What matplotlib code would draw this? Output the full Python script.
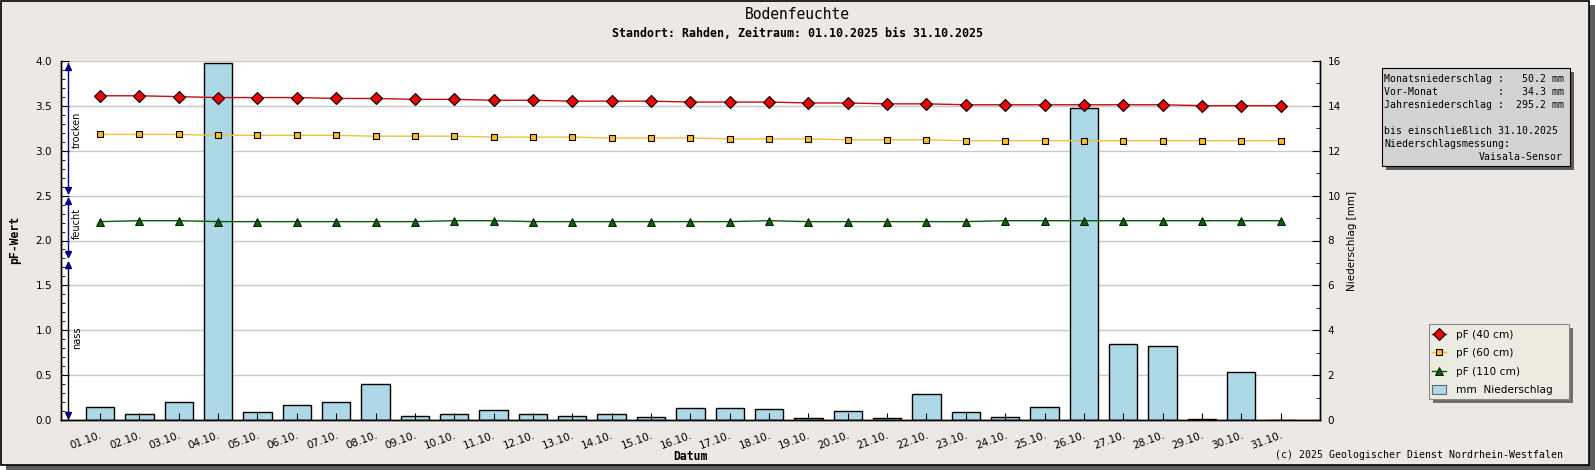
import matplotlib
matplotlib.use("Agg")
import matplotlib.pyplot as plt
from matplotlib.patches import Rectangle
from matplotlib.lines import Line2D
from matplotlib.ticker import MultipleLocator

W, H = 1595, 470
MONO = "DejaVu Sans Mono"

# data
tage = ["01.10.", "02.10.", "03.10.", "04.10.", "05.10.", "06.10.", "07.10.", "08.10.",
        "09.10.", "10.10.", "11.10.", "12.10.", "13.10.", "14.10.", "15.10.", "16.10.",
        "17.10.", "18.10.", "19.10.", "20.10.", "21.10.", "22.10.", "23.10.", "24.10.",
        "25.10.", "26.10.", "27.10.", "28.10.", "29.10.", "30.10.", "31.10."]
pf_40 = [3.61, 3.61, 3.60, 3.59, 3.59, 3.59, 3.58, 3.58, 3.57, 3.57, 3.56, 3.56, 3.55, 3.55,
         3.55, 3.54, 3.54, 3.54, 3.53, 3.53, 3.52, 3.52, 3.51, 3.51, 3.51, 3.51, 3.51, 3.51,
         3.50, 3.50, 3.50]
pf_60 = [3.18, 3.18, 3.18, 3.17, 3.17, 3.17, 3.17, 3.16, 3.16, 3.16, 3.15, 3.15, 3.15, 3.14,
         3.14, 3.14, 3.13, 3.13, 3.13, 3.12, 3.12, 3.12, 3.11, 3.11, 3.11, 3.11, 3.11, 3.11,
         3.11, 3.11, 3.11]
pf_110 = [2.21, 2.22, 2.22, 2.21, 2.21, 2.21, 2.21, 2.21, 2.21, 2.22, 2.22, 2.21, 2.21, 2.21,
          2.21, 2.21, 2.21, 2.22, 2.21, 2.21, 2.21, 2.21, 2.21, 2.22, 2.22, 2.22, 2.22, 2.22,
          2.22, 2.22, 2.22]
niederschlag = [0.6, 0.3, 0.8, 15.9, 0.35, 0.7, 0.8, 1.6, 0.2, 0.3, 0.45, 0.3, 0.2, 0.3, 0.15,
                0.55, 0.55, 0.5, 0.1, 0.4, 0.1, 1.15, 0.35, 0.15, 0.6, 13.9, 3.4, 3.3, 0.05,
                2.15, 0.0]
monat_mm = 50.2
vormonat_mm = 34.3
jahr_mm = 295.2
bis_datum = "31.10.2025"
sensor = "Vaisala-Sensor"

# soil moisture classes (pF ranges) drawn at the left edge
klassen = [("trocken", 2.53, 3.97, 3.23, "navy"),
           ("feucht", 1.82, 2.47, 2.19, "navy"),
           ("nass", 0.02, 1.76, 0.92, "black")]

tage_x = list(range(1, len(tage) + 1))


def fx(x):
    return x / W


def fy(y):
    return 1 - y / H


def box(x0, y0, x1, y1, **kw):
    fig.add_artist(Rectangle((fx(x0), fy(y1)), (x1 - x0) / W, (y1 - y0) / H,
                             transform=fig.transFigure, **kw))


fig = plt.figure(figsize=(W / 100, H / 100), dpi=100)
fig.patch.set_facecolor("white")

# frame with drop shadow
box(6, 5, 1595, 470, facecolor="#5c5c5c", edgecolor="none", zorder=0)
box(0.5, 0.5, 1589, 465, facecolor="#ebe8e6", edgecolor="black", lw=1.2, zorder=0.1)

ax = fig.add_axes([fx(60.7), fy(420.3), (1320 - 60.7) / W, (420.3 - 60.7) / H])
ax2 = ax.twinx()
ax.set_zorder(3)
ax2.set_zorder(2)
ax.patch.set_visible(False)
ax2.patch.set_visible(True)
ax2.patch.set_facecolor("white")

# bars (mm) on the right axis
ax2.bar(tage_x, niederschlag, width=0.72, color="#add8e6", edgecolor="black", linewidth=1)
ax2.set_ylim(0, 16)
ax2.yaxis.set_major_locator(MultipleLocator(2))
ax2.yaxis.set_minor_locator(MultipleLocator(1))
ax2.set_axisbelow(True)
ax2.grid(axis="y", color="#c8c8c8", lw=1)
ax2.tick_params(axis="y", which="major", direction="in", length=5.5, pad=5.5, labelsize=7.5)
ax2.tick_params(axis="y", which="minor", direction="in", length=3)

# pF lines
ax.plot(tage_x, pf_40, color="#c41010", lw=1, marker="D", ms=6, mfc="#ee0000", mec="black", mew=0.8)
ax.plot(tage_x, pf_60, color="#f0c040", lw=1, marker="s", ms=4.2, mfc="#fbbd22", mec="black", mew=0.8)
ax.plot(tage_x, pf_110, color="#0a5a0a", lw=1, marker="^", ms=5.5, mfc="#006400", mec="black", mew=0.6)

ax.set_xlim(0, 32)
ax.set_ylim(0, 4)
ax.yaxis.set_major_locator(MultipleLocator(0.5))
ax.yaxis.set_minor_locator(MultipleLocator(0.1))
ax.yaxis.set_major_formatter(plt.FormatStrFormatter("%.1f"))
ax.tick_params(axis="y", which="major", direction="in", length=6, pad=6.3, labelsize=7.5)
ax.tick_params(axis="y", which="minor", direction="in", length=3)
ax.set_xticks(tage_x)
ax.set_xticklabels(tage, rotation=20, ha="right", rotation_mode="anchor")
ax.tick_params(axis="x", direction="in", length=5, pad=7, labelsize=7.5)

for a in (ax, ax2):
    a.spines["top"].set_visible(False)
    for s in ("left", "right", "bottom"):
        a.spines[s].set_color("black")
        a.spines[s].set_linewidth(1)

# class arrows on the left
xa = 0.19
for name, y0, y1, yt, col in klassen:
    ax.plot([xa, xa], [y0, y1], color=col, lw=1, zorder=4)
    ax.plot(xa, y1 - 0.035, marker="^", ms=5, color="navy", mec="navy", zorder=5)
    ax.plot(xa, y0 + 0.035, marker="v", ms=5, color="navy", mec="navy", zorder=5)
    ax.text(0.41, yt, name, rotation=90, ha="center", va="center", fontsize=7)

# titles and labels
fig.text(fx(797), fy(14.5), "Bodenfeuchte", ha="center", va="center", family=MONO, fontsize=10.5)
fig.text(fx(797), fy(33.5), "Standort: Rahden, Zeitraum: 01.10.2025 bis 31.10.2025",
         ha="center", va="center", family=MONO, fontsize=8.4, fontweight="bold")
fig.text(fx(14.7), fy(240), "pF-Wert", rotation=90, ha="center", va="center",
         family=MONO, fontsize=8.3, fontweight="bold")
fig.text(fx(1352), fy(241), "Niederschlag [mm]", rotation=90, ha="center", va="center", fontsize=7.5)
fig.text(fx(690), fy(456.5), "Datum", ha="center", va="center", family=MONO,
         fontsize=8.3, fontweight="bold")
fig.text(fx(1563), fy(455), "(c) 2025 Geologischer Dienst Nordrhein-Westfalen",
         ha="right", va="center", family=MONO, fontsize=7.1)

# info box
box(1386, 72, 1574, 170, facecolor="#5c5c5c", edgecolor="none", zorder=1)
box(1382, 68, 1570, 166, facecolor="#d3d3d3", edgecolor="black", lw=0.8, zorder=1.1)
info = [f"{'Monatsniederschlag':<19}:{monat_mm:>7.1f} mm",
        f"{'Vor-Monat':<19}:{vormonat_mm:>7.1f} mm",
        f"{'Jahresniederschlag':<19}:{jahr_mm:>7.1f} mm",
        "",
        f"bis einschließlich {bis_datum}",
        "Niederschlagsmessung:"]
for i, line in enumerate(info):
    fig.text(fx(1384.5), fy(79.3 + 13 * i), line, ha="left", va="center", family=MONO, fontsize=7.1)
fig.text(fx(1563), fy(79.3 + 13 * 6), sensor, ha="right", va="center", family=MONO, fontsize=7.1)

# legend box
box(1433, 328, 1573, 403, facecolor="#6e6e6e", edgecolor="none", zorder=1)
box(1429, 324, 1569, 399, facecolor="#ecebe1", edgecolor="#888888", lw=0.8, zorder=1.1)
handles = [
    Line2D([], [], color="#c41010", lw=1, marker="D", ms=6, mfc="#ee0000", mec="black", mew=0.8),
    Line2D([], [], color="#f0c040", lw=1, marker="s", ms=5, mfc="#fbbd22", mec="black", mew=0.8),
    Line2D([], [], color="#0a5a0a", lw=1, marker="^", ms=6, mfc="#006400", mec="black", mew=0.6),
    Rectangle((0, 0), 1, 1, facecolor="#add8e6", edgecolor="#666666", lw=0.8),
]
labels = ["pF (40 cm)", "pF (60 cm)", "pF (110 cm)", "mm  Niederschlag"]
leg = fig.legend(handles, labels, loc="upper left", bbox_to_anchor=(fx(1430), fy(327.5)),
                 frameon=False, fontsize=7.6, handlelength=1.3, handleheight=0.9,
                 handletextpad=1.0, labelspacing=0.8, borderpad=0.2, borderaxespad=0)
leg.set_zorder(6)

fig.savefig("out.png", dpi=100, facecolor=fig.get_facecolor())
